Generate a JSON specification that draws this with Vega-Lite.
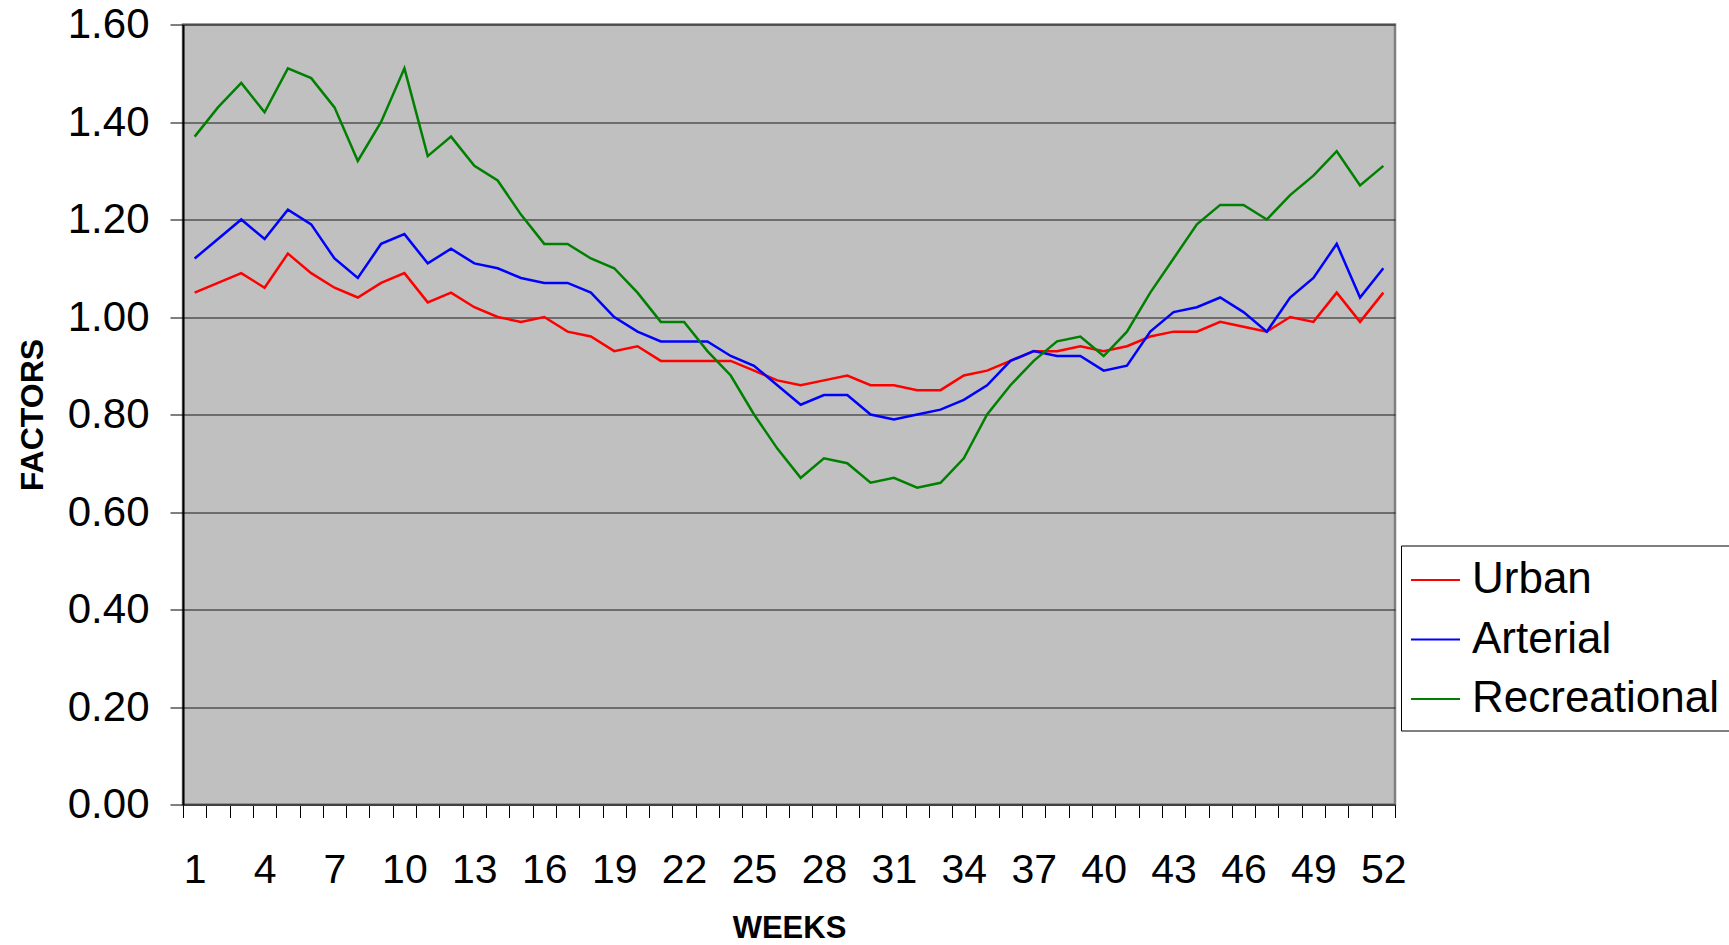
{
  "$schema": "https://vega.github.io/schema/vega-lite/v6.json",
  "width": 1212,
  "height": 780,
  "autosize": {"type": "none"},
  "padding": {"left": 183, "top": 24.5, "right": 334, "bottom": 140.5},
  "background": "white",
  "config": {
    "font": "Liberation Sans",
    "view": {"fill": "#C0C0C0", "stroke": "#808080", "strokeWidth": 2.5}
  },
  "data": {
    "values": [
      {"week": 1, "type": "Urban", "factor": 1.05}, {"week": 2, "type": "Urban", "factor": 1.07}, {"week": 3, "type": "Urban", "factor": 1.09}, {"week": 4, "type": "Urban", "factor": 1.06},
      {"week": 5, "type": "Urban", "factor": 1.13}, {"week": 6, "type": "Urban", "factor": 1.09}, {"week": 7, "type": "Urban", "factor": 1.06}, {"week": 8, "type": "Urban", "factor": 1.04},
      {"week": 9, "type": "Urban", "factor": 1.07}, {"week": 10, "type": "Urban", "factor": 1.09}, {"week": 11, "type": "Urban", "factor": 1.03}, {"week": 12, "type": "Urban", "factor": 1.05},
      {"week": 13, "type": "Urban", "factor": 1.02}, {"week": 14, "type": "Urban", "factor": 1.00}, {"week": 15, "type": "Urban", "factor": 0.99}, {"week": 16, "type": "Urban", "factor": 1.00},
      {"week": 17, "type": "Urban", "factor": 0.97}, {"week": 18, "type": "Urban", "factor": 0.96}, {"week": 19, "type": "Urban", "factor": 0.93}, {"week": 20, "type": "Urban", "factor": 0.94},
      {"week": 21, "type": "Urban", "factor": 0.91}, {"week": 22, "type": "Urban", "factor": 0.91}, {"week": 23, "type": "Urban", "factor": 0.91}, {"week": 24, "type": "Urban", "factor": 0.91},
      {"week": 25, "type": "Urban", "factor": 0.89}, {"week": 26, "type": "Urban", "factor": 0.87}, {"week": 27, "type": "Urban", "factor": 0.86}, {"week": 28, "type": "Urban", "factor": 0.87},
      {"week": 29, "type": "Urban", "factor": 0.88}, {"week": 30, "type": "Urban", "factor": 0.86}, {"week": 31, "type": "Urban", "factor": 0.86}, {"week": 32, "type": "Urban", "factor": 0.85},
      {"week": 33, "type": "Urban", "factor": 0.85}, {"week": 34, "type": "Urban", "factor": 0.88}, {"week": 35, "type": "Urban", "factor": 0.89}, {"week": 36, "type": "Urban", "factor": 0.91},
      {"week": 37, "type": "Urban", "factor": 0.93}, {"week": 38, "type": "Urban", "factor": 0.93}, {"week": 39, "type": "Urban", "factor": 0.94}, {"week": 40, "type": "Urban", "factor": 0.93},
      {"week": 41, "type": "Urban", "factor": 0.94}, {"week": 42, "type": "Urban", "factor": 0.96}, {"week": 43, "type": "Urban", "factor": 0.97}, {"week": 44, "type": "Urban", "factor": 0.97},
      {"week": 45, "type": "Urban", "factor": 0.99}, {"week": 46, "type": "Urban", "factor": 0.98}, {"week": 47, "type": "Urban", "factor": 0.97}, {"week": 48, "type": "Urban", "factor": 1.00},
      {"week": 49, "type": "Urban", "factor": 0.99}, {"week": 50, "type": "Urban", "factor": 1.05}, {"week": 51, "type": "Urban", "factor": 0.99}, {"week": 52, "type": "Urban", "factor": 1.05},

      {"week": 1, "type": "Arterial", "factor": 1.12}, {"week": 2, "type": "Arterial", "factor": 1.16}, {"week": 3, "type": "Arterial", "factor": 1.20}, {"week": 4, "type": "Arterial", "factor": 1.16},
      {"week": 5, "type": "Arterial", "factor": 1.22}, {"week": 6, "type": "Arterial", "factor": 1.19}, {"week": 7, "type": "Arterial", "factor": 1.12}, {"week": 8, "type": "Arterial", "factor": 1.08},
      {"week": 9, "type": "Arterial", "factor": 1.15}, {"week": 10, "type": "Arterial", "factor": 1.17}, {"week": 11, "type": "Arterial", "factor": 1.11}, {"week": 12, "type": "Arterial", "factor": 1.14},
      {"week": 13, "type": "Arterial", "factor": 1.11}, {"week": 14, "type": "Arterial", "factor": 1.10}, {"week": 15, "type": "Arterial", "factor": 1.08}, {"week": 16, "type": "Arterial", "factor": 1.07},
      {"week": 17, "type": "Arterial", "factor": 1.07}, {"week": 18, "type": "Arterial", "factor": 1.05}, {"week": 19, "type": "Arterial", "factor": 1.00}, {"week": 20, "type": "Arterial", "factor": 0.97},
      {"week": 21, "type": "Arterial", "factor": 0.95}, {"week": 22, "type": "Arterial", "factor": 0.95}, {"week": 23, "type": "Arterial", "factor": 0.95}, {"week": 24, "type": "Arterial", "factor": 0.92},
      {"week": 25, "type": "Arterial", "factor": 0.90}, {"week": 26, "type": "Arterial", "factor": 0.86}, {"week": 27, "type": "Arterial", "factor": 0.82}, {"week": 28, "type": "Arterial", "factor": 0.84},
      {"week": 29, "type": "Arterial", "factor": 0.84}, {"week": 30, "type": "Arterial", "factor": 0.80}, {"week": 31, "type": "Arterial", "factor": 0.79}, {"week": 32, "type": "Arterial", "factor": 0.80},
      {"week": 33, "type": "Arterial", "factor": 0.81}, {"week": 34, "type": "Arterial", "factor": 0.83}, {"week": 35, "type": "Arterial", "factor": 0.86}, {"week": 36, "type": "Arterial", "factor": 0.91},
      {"week": 37, "type": "Arterial", "factor": 0.93}, {"week": 38, "type": "Arterial", "factor": 0.92}, {"week": 39, "type": "Arterial", "factor": 0.92}, {"week": 40, "type": "Arterial", "factor": 0.89},
      {"week": 41, "type": "Arterial", "factor": 0.90}, {"week": 42, "type": "Arterial", "factor": 0.97}, {"week": 43, "type": "Arterial", "factor": 1.01}, {"week": 44, "type": "Arterial", "factor": 1.02},
      {"week": 45, "type": "Arterial", "factor": 1.04}, {"week": 46, "type": "Arterial", "factor": 1.01}, {"week": 47, "type": "Arterial", "factor": 0.97}, {"week": 48, "type": "Arterial", "factor": 1.04},
      {"week": 49, "type": "Arterial", "factor": 1.08}, {"week": 50, "type": "Arterial", "factor": 1.15}, {"week": 51, "type": "Arterial", "factor": 1.04}, {"week": 52, "type": "Arterial", "factor": 1.10},

      {"week": 1, "type": "Recreational", "factor": 1.37}, {"week": 2, "type": "Recreational", "factor": 1.43}, {"week": 3, "type": "Recreational", "factor": 1.48}, {"week": 4, "type": "Recreational", "factor": 1.42},
      {"week": 5, "type": "Recreational", "factor": 1.51}, {"week": 6, "type": "Recreational", "factor": 1.49}, {"week": 7, "type": "Recreational", "factor": 1.43}, {"week": 8, "type": "Recreational", "factor": 1.32},
      {"week": 9, "type": "Recreational", "factor": 1.40}, {"week": 10, "type": "Recreational", "factor": 1.51}, {"week": 11, "type": "Recreational", "factor": 1.33}, {"week": 12, "type": "Recreational", "factor": 1.37},
      {"week": 13, "type": "Recreational", "factor": 1.31}, {"week": 14, "type": "Recreational", "factor": 1.28}, {"week": 15, "type": "Recreational", "factor": 1.21}, {"week": 16, "type": "Recreational", "factor": 1.15},
      {"week": 17, "type": "Recreational", "factor": 1.15}, {"week": 18, "type": "Recreational", "factor": 1.12}, {"week": 19, "type": "Recreational", "factor": 1.10}, {"week": 20, "type": "Recreational", "factor": 1.05},
      {"week": 21, "type": "Recreational", "factor": 0.99}, {"week": 22, "type": "Recreational", "factor": 0.99}, {"week": 23, "type": "Recreational", "factor": 0.93}, {"week": 24, "type": "Recreational", "factor": 0.88},
      {"week": 25, "type": "Recreational", "factor": 0.80}, {"week": 26, "type": "Recreational", "factor": 0.73}, {"week": 27, "type": "Recreational", "factor": 0.67}, {"week": 28, "type": "Recreational", "factor": 0.71},
      {"week": 29, "type": "Recreational", "factor": 0.70}, {"week": 30, "type": "Recreational", "factor": 0.66}, {"week": 31, "type": "Recreational", "factor": 0.67}, {"week": 32, "type": "Recreational", "factor": 0.65},
      {"week": 33, "type": "Recreational", "factor": 0.66}, {"week": 34, "type": "Recreational", "factor": 0.71}, {"week": 35, "type": "Recreational", "factor": 0.80}, {"week": 36, "type": "Recreational", "factor": 0.86},
      {"week": 37, "type": "Recreational", "factor": 0.91}, {"week": 38, "type": "Recreational", "factor": 0.95}, {"week": 39, "type": "Recreational", "factor": 0.96}, {"week": 40, "type": "Recreational", "factor": 0.92},
      {"week": 41, "type": "Recreational", "factor": 0.97}, {"week": 42, "type": "Recreational", "factor": 1.05}, {"week": 43, "type": "Recreational", "factor": 1.12}, {"week": 44, "type": "Recreational", "factor": 1.19},
      {"week": 45, "type": "Recreational", "factor": 1.23}, {"week": 46, "type": "Recreational", "factor": 1.23}, {"week": 47, "type": "Recreational", "factor": 1.20}, {"week": 48, "type": "Recreational", "factor": 1.25},
      {"week": 49, "type": "Recreational", "factor": 1.29}, {"week": 50, "type": "Recreational", "factor": 1.34}, {"week": 51, "type": "Recreational", "factor": 1.27}, {"week": 52, "type": "Recreational", "factor": 1.31}
    ]
  },
  "mark": {"type": "line", "strokeWidth": 2.5},
  "encoding": {
    "x": {
      "field": "week",
      "type": "quantitative",
      "scale": {"domain": [0.5, 52.5], "nice": false, "zero": false},
      "axis": {
        "title": "WEEKS",
        "titleFontSize": 31,
        "titleFontWeight": "bold",
        "titleColor": "black",
        "titleX": 606,
        "titleY": 133,
        "titleAlign": "center",
        "titleBaseline": "alphabetic",
        "values": [0.5, 1.5, 2.5, 3.5, 4.5, 5.5, 6.5, 7.5, 8.5, 9.5, 10.5, 11.5, 12.5, 13.5, 14.5, 15.5, 16.5, 17.5, 18.5, 19.5, 20.5, 21.5, 22.5, 23.5, 24.5, 25.5, 26.5, 27.5, 28.5, 29.5, 30.5, 31.5, 32.5, 33.5, 34.5, 35.5, 36.5, 37.5, 38.5, 39.5, 40.5, 41.5, 42.5, 43.5, 44.5, 45.5, 46.5, 47.5, 48.5, 49.5, 50.5, 51.5, 52.5],
        "labelExpr": "((datum.value - 0.5) % 3 == 0) ? format(datum.value + 0.5, 'd') : ''",
        "labelOffset": 11.65,
        "labelPadding": 33,
        "labelFontSize": 41,
        "labelColor": "black",
        "labelOverlap": false,
        "labelFlush": false,
        "labelBound": false,
        "grid": false,
        "tickSize": 13,
        "tickColor": "black",
        "tickWidth": 1,
        "domainColor": "#404040",
        "domainWidth": 2
      }
    },
    "y": {
      "field": "factor",
      "type": "quantitative",
      "scale": {"domain": [0, 1.6], "nice": false},
      "axis": {
        "title": "FACTORS",
        "titleFontSize": 32,
        "titleFontWeight": "bold",
        "titleColor": "black",
        "titleX": -141,
        "titleY": 390,
        "titleAngle": 270,
        "titleAlign": "center",
        "titleBaseline": "alphabetic",
        "values": [0, 0.2, 0.4, 0.6, 0.8, 1.0, 1.2, 1.4, 1.6],
        "format": ".2f",
        "labelFontSize": 42,
        "labelColor": "black",
        "labelPadding": 21,
        "labelOverlap": false,
        "labelFlush": false,
        "grid": true,
        "gridColor": "#1a1a1a",
        "gridWidth": 1,
        "tickSize": 13,
        "tickColor": "black",
        "tickWidth": 1,
        "domainColor": "black",
        "domainWidth": 2
      }
    },
    "color": {
      "field": "type",
      "type": "nominal",
      "scale": {"domain": ["Urban", "Arterial", "Recreational"], "range": ["#FF0000", "#0000FF", "#008000"]},
      "legend": {
        "title": null,
        "orient": "none",
        "legendX": 1218,
        "legendY": 521,
        "padding": 9,
        "strokeColor": "black",
        "fillColor": "white",
        "labelFontSize": 44,
        "labelColor": "black",
        "labelOffset": 11,
        "symbolType": "stroke",
        "symbolSize": 2401,
        "symbolStrokeWidth": 2,
        "rowPadding": 11.5,
        "labelLimit": 600
      }
    }
  }
}
